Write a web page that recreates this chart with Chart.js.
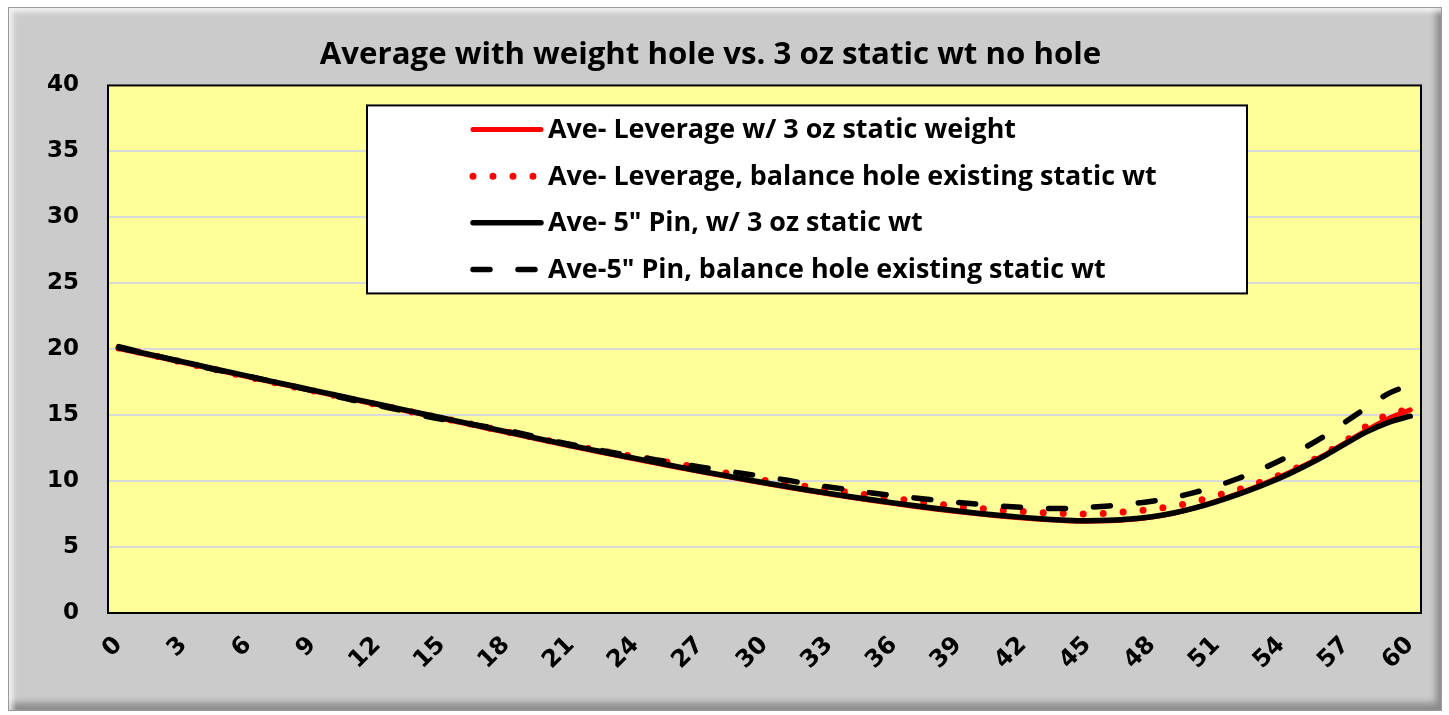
<!DOCTYPE html>
<html><head><meta charset="utf-8">
<script src="https://cdn.jsdelivr.net/npm/chart.js@4.4.0/dist/chart.umd.min.js"></script>
<style>
html,body{margin:0;padding:0;background:#fff;width:1449px;height:715px;overflow:hidden;}
#frame{position:absolute;left:8px;top:7px;width:1434px;height:704px;background:#cbcbcb;box-sizing:border-box;border:1px solid #9a9a9a;
box-shadow: inset 4px 4px 5px rgba(255,255,255,0.75), inset -5px -7px 7px rgba(0,0,0,0.32);}
canvas{position:absolute;left:0;top:0;}
</style></head>
<body><div id="frame"></div><canvas id="c" width="1449" height="715"></canvas>
<script>
const categories = ['0','1','2','3','4','5','6','7','8','9','10','11','12','13','14','15','16','17','18','19','20',
 '21','22','23','24','25','26','27','28','29','30','31','32','33','34','35','36','37','38','39','40',
 '41','42','43','44','45','46','47','48','49','50','51','52','53','54','55','56','57','58','59','60'];
const tickLabels = ['0','3','6','9','12','15','18','21','24','27','30','33','36','39','42','45','48','51','54','57','60'];
const yTicks = [0,5,10,15,20,25,30,35,40];

const titleText = 'Average with weight hole vs. 3 oz static wt no hole';
const seriesNames = [
 'Ave- Leverage w/ 3 oz static weight',
 'Ave- Leverage, balance hole existing static wt',
 'Ave- 5" Pin, w/ 3 oz static wt',
 'Ave-5" Pin, balance hole existing static wt'
];

const leverage3oz = [20.05,19.7,19.35,18.99,18.63,18.27,17.91,17.55,17.2,16.85,16.5,16.15,15.8,15.45,15.1,14.75,14.4,14.05,13.7,13.35,13.0,
 12.65,12.32,11.99,11.67,11.35,11.03,10.72,10.42,10.12,9.83,9.55,9.28,9.02,8.77,8.53,8.3,8.08,7.87,7.68,7.5,
 7.34,7.2,7.08,7.0,6.96,6.99,7.08,7.27,7.56,7.97,8.48,9.05,9.67,10.36,11.12,11.97,12.92,13.88,14.75,15.4];
const leverageHole = [20.1,19.75,19.38,19.0,18.63,18.27,17.9,17.55,17.2,16.85,16.5,16.15,15.8,15.45,15.1,14.78,14.45,14.1,13.75,13.4,13.05,
 12.72,12.42,12.12,11.85,11.57,11.3,11.0,10.68,10.35,10.05,9.8,9.58,9.35,9.12,8.9,8.7,8.48,8.27,8.08,7.92,
 7.8,7.7,7.6,7.53,7.5,7.57,7.7,7.87,8.1,8.45,8.9,9.35,9.9,10.5,11.2,12.05,13.05,14.2,15.05,15.45];
const pin3oz = [20.1,19.75,19.4,19.04,18.68,18.32,17.96,17.6,17.25,16.9,16.55,16.2,15.85,15.5,15.15,14.8,14.45,14.1,13.75,13.4,13.05,
 12.7,12.37,12.04,11.72,11.4,11.08,10.77,10.47,10.17,9.88,9.6,9.33,9.07,8.82,8.58,8.35,8.13,7.92,7.73,7.55,
 7.39,7.25,7.13,7.04,7.0,7.03,7.12,7.3,7.58,7.97,8.45,9.0,9.6,10.27,11.05,11.9,12.85,13.75,14.45,14.92];
const pinHole = [20.2,19.8,19.4,19.0,18.62,18.28,17.95,17.6,17.22,16.85,16.47,16.1,15.75,15.4,15.0,14.68,14.42,14.15,13.85,13.5,13.12,
 12.78,12.47,12.15,11.88,11.6,11.35,11.08,10.83,10.58,10.33,10.08,9.8,9.55,9.32,9.1,8.9,8.72,8.55,8.38,8.23,
 8.1,8.0,7.92,7.92,8.0,8.12,8.27,8.48,8.75,9.15,9.62,10.2,10.85,11.6,12.45,13.4,14.5,15.6,16.65,17.3];

const TEXT_FONT = '"Open Sans", "Noto Sans", sans-serif';
const TICK_FONT = '"DejaVu Sans", sans-serif';

function fitSize(text, family, target) {
  const c = document.createElement('canvas').getContext('2d');
  c.font = 'bold 100px ' + family;
  return Math.round(100 * target / c.measureText(text).width * 10) / 10;
}
const titleSize = fitSize(titleText, TEXT_FONT, 782);
const legendSize = fitSize(seriesNames[0], TEXT_FONT, 468);

const bgPlugin = {
  id: 'plotBg',
  beforeDraw(chart) {
    const {ctx, chartArea: a} = chart;
    ctx.save();
    ctx.fillStyle = '#FFFF99';
    ctx.fillRect(a.left, a.top, a.right - a.left, a.bottom - a.top);
    ctx.restore();
  },
  beforeDatasetsDraw(chart) {
    const {ctx, chartArea: a} = chart;
    ctx.save();
    ctx.strokeStyle = '#000';
    ctx.lineWidth = 2;
    ctx.strokeRect(a.left, a.top, a.right - a.left, a.bottom - a.top);
    ctx.restore();
  }
};

const legendPlugin = {
  id: 'boxLegend',
  afterDatasetsDraw(chart) {
    const {ctx, chartArea: a} = chart;
    const x0 = a.left + 259, y0 = a.top + 20, w = 880, h = 188;
    ctx.save();
    ctx.fillStyle = '#fff';
    ctx.fillRect(x0, y0, w, h);
    ctx.lineWidth = 2;
    ctx.strokeStyle = '#000';
    ctx.strokeRect(x0, y0, w, h);
    chart.data.datasets.forEach((ds, i) => {
      const cy = y0 + 24 + i * 46.7;
      ctx.beginPath();
      ctx.setLineDash(ds.borderDash || []);
      ctx.lineCap = 'round';
      ctx.lineWidth = ds.borderWidth;
      ctx.strokeStyle = ds.borderColor;
      ctx.moveTo(x0 + 106, cy);
      ctx.lineTo(x0 + 174, cy);
      ctx.stroke();
      ctx.setLineDash([]);
      ctx.fillStyle = '#000';
      ctx.font = 'bold ' + legendSize + 'px ' + TEXT_FONT;
      ctx.textBaseline = 'middle';
      ctx.textAlign = 'left';
      ctx.fillText(ds.label, x0 + 181, cy + 1);
    });
    ctx.restore();
  }
};

new Chart(document.getElementById('c'), {
  type: 'line',
  data: {
    labels: categories,
    datasets: [
      {label: seriesNames[0], data: leverage3oz, borderColor: '#FF0000', borderWidth: 5, order: 4},
      {label: seriesNames[1], data: leverageHole, borderColor: '#FF0000', borderWidth: 7, borderDash: [0, 20], order: 3},
      {label: seriesNames[2], data: pin3oz, borderColor: '#000000', borderWidth: 5.5, order: 2},
      {label: seriesNames[3], data: pinHole, borderColor: '#000000', borderWidth: 5.5, borderDash: [17, 28], order: 1}
    ].map(d => Object.assign(d, {pointRadius: 0, fill: false, cubicInterpolationMode: 'monotone', borderCapStyle: 'round', borderJoinStyle: 'round'}))
  },
  options: {
    responsive: false,
    animation: false,
    devicePixelRatio: 1,
    layout: {padding: {left: 0, right: 28, top: 0, bottom: 0}},
    plugins: {
      legend: {display: false},
      tooltip: {enabled: false},
      title: {
        display: true,
        text: titleText,
        color: '#000',
        font: {family: TEXT_FONT, size: titleSize, weight: 'bold', lineHeight: 1.2},
        padding: {top: 36, bottom: 12}
      }
    },
    scales: {
      x: {
        type: 'category',
        offset: true,
        grid: {display: false, drawTicks: false},
        border: {display: false},
        ticks: {
          autoSkip: false, minRotation: 45, maxRotation: 45, padding: 18,
          color: '#000', font: {family: TICK_FONT, size: 24, weight: 'bold'},
          callback: function(v, i) { const l = this.getLabelForValue(v); return tickLabels.includes(l) ? l : ''; }
        },
        afterFit(s) { s.height = 102; }
      },
      y: {
        min: 0, max: 40,
        afterBuildTicks(s) { s.ticks = yTicks.map(v => ({value: v})); },
        grid: {color: '#d9d9d9', lineWidth: 2, drawTicks: false},
        border: {display: false},
        ticks: {padding: 29, color: '#000', font: {family: TICK_FONT, size: 23, weight: 'bold'}},
        afterFit(s) { s.width = 108; }
      }
    }
  },
  plugins: [bgPlugin, legendPlugin]
});
</script>
</body></html>
